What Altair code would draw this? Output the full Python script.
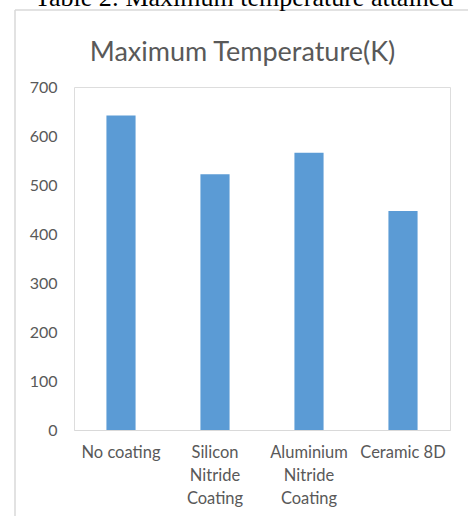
import altair as alt
import pandas as pd

# Bar values
categories = ["No coating", "Silicon Nitride Coating", "Aluminium Nitride Coating", "Ceramic 8D"]
max_temp_k = [642, 522, 566, 447]
y_ticks = [0, 100, 200, 300, 400, 500, 600, 700]

caption = "Table 2: Maximum temperature attained"
chart_title = "Maximum Temperature(K)"

TEXT = "#595959"
FRAME = "#D9D9D9"
BAR = "#5B9BD5"
FONT = "Lato"

df = pd.DataFrame({"category": categories, "temp": max_temp_k})

bars = alt.Chart(df).mark_bar(color=BAR).encode(
    x=alt.X(
        "category:N",
        sort=categories,
        title=None,
        scale=alt.Scale(paddingInner=0.69, paddingOuter=0.345),
        axis=alt.Axis(
            labelAngle=0,
            ticks=False,
            domainColor=FRAME,
            domainWidth=1,
            labelColor=TEXT,
            labelFont=FONT,
            labelFontSize=16.5,
            labelPadding=14,
            labelLineHeight=23,
            labelLimit=300,
            labelExpr="length(datum.label) > 12 ? split(datum.label, ' ') : datum.label",
        ),
    ),
    y=alt.Y(
        "temp:Q",
        title=None,
        scale=alt.Scale(domain=[0, 700]),
        axis=alt.Axis(
            values=y_ticks,
            grid=False,
            domain=False,
            ticks=False,
            labelColor=TEXT,
            labelFont=FONT,
            labelFontSize=16,
            labelPadding=17,
        ),
    ),
)

# Outer chart frame (left and top edges)
frame_left = alt.Chart(pd.DataFrame({"k": [0]})).mark_rule(
    color=FRAME, strokeWidth=1.5
).encode(x=alt.value(-59), y=alt.value(-77), y2=alt.value(440))

frame_top = alt.Chart(pd.DataFrame({"k": [0]})).mark_rule(
    color=FRAME, strokeWidth=1.5
).encode(x=alt.value(-59), x2=alt.value(420), y=alt.value(-77))

caption_text = alt.Chart(pd.DataFrame({"t": [caption]})).mark_text(
    font="Liberation Serif", fontSize=26, color="black", baseline="alphabetic", align="center"
).encode(text="t:N", x=alt.value(170), y=alt.value(-81))

title_text = alt.Chart(pd.DataFrame({"t": [chart_title]})).mark_text(
    font=FONT, fontSize=27, color=TEXT, baseline="alphabetic", align="center"
).encode(text="t:N", x=alt.value(168.5), y=alt.value(-26))

chart = alt.layer(frame_left, frame_top, caption_text, title_text, bars).properties(
    width=376,
    height=343,
    autosize=alt.AutoSizeParams(type="none"),
    padding={"left": 74, "top": 87, "right": 18, "bottom": 86},
).configure_view(stroke=None).configure(background="white")

chart.save("out.html", embed_options={"renderer": "svg", "actions": False})
